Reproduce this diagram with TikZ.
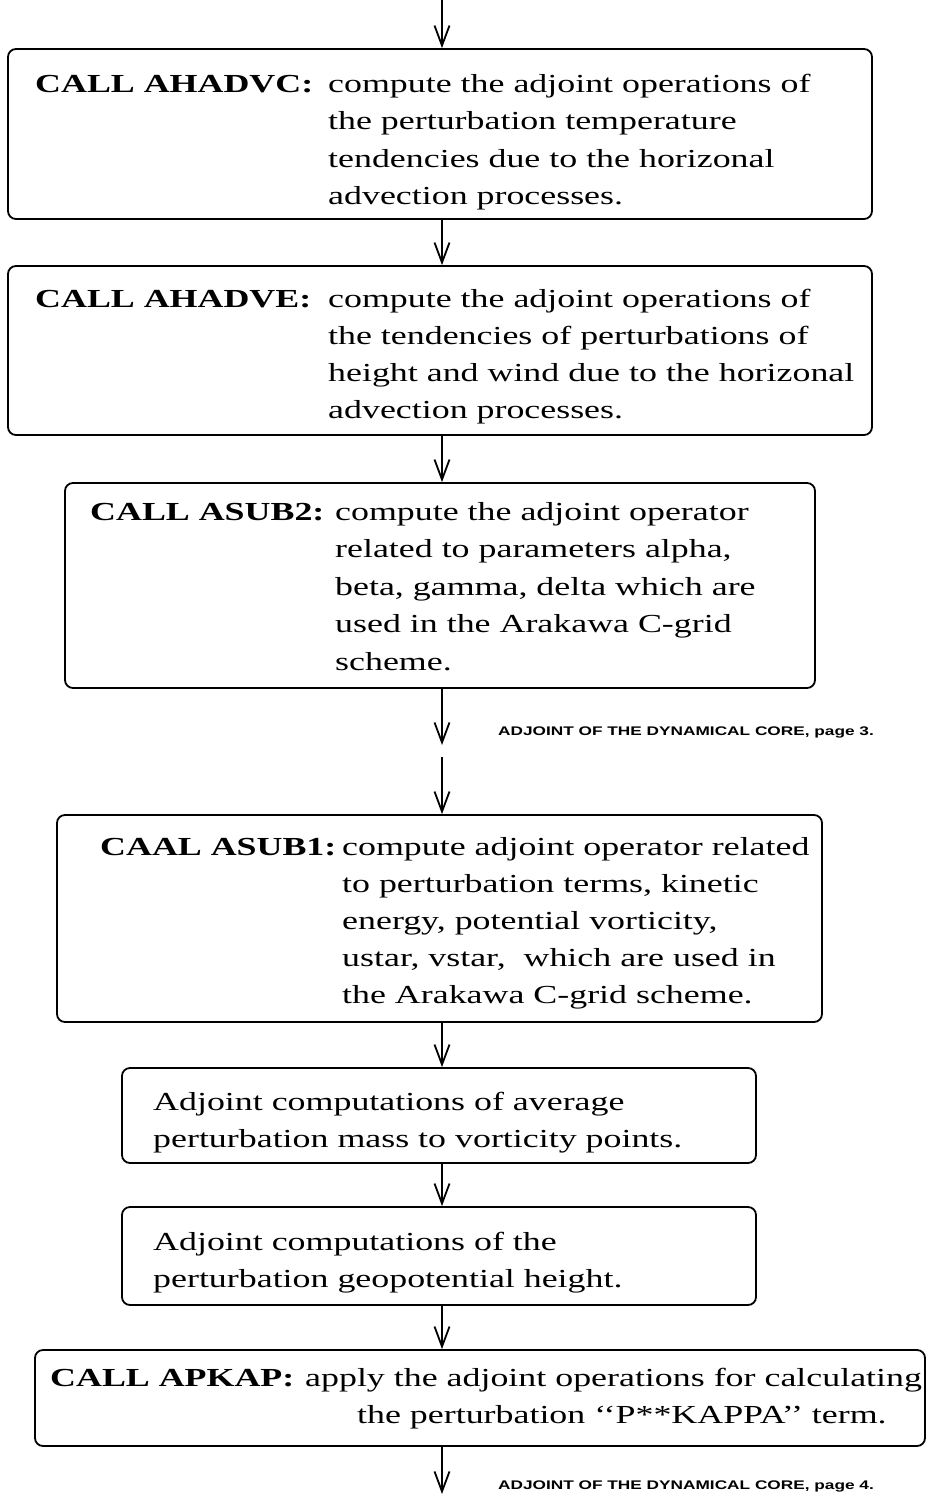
\documentclass[tikz,border=0pt]{standalone}
\usepackage{fontspec}
\setmainfont{Liberation Serif}[FakeStretch=1.38]
\newfontfamily\notefont{Liberation Sans}[FakeStretch=1.38]
\usetikzlibrary{arrows.meta}
\begin{document}
\begin{tikzpicture}[x=1pt,y=-1pt,
  box/.style={draw,line width=1.8pt,rounded corners=8pt,rectangle,inner sep=0pt},
  txt/.style={anchor=base west,inner sep=0pt,font=\fontsize{26}{37.5}\selectfont},
  lbl/.style={txt,font=\fontsize{26}{37.5}\selectfont\bfseries},
  note/.style={anchor=base west,inner sep=0pt,font=\notefont\bfseries\fontsize{12.5}{15}\selectfont},
  arr/.style={line width=1.8pt,-{Straight Barb[length=20pt,width=15pt,line width=1.8pt]}}]
\useasboundingbox (0,0) rectangle (928,1497);

% process boxes
\node[box,minimum width=864pt,minimum height=170pt] (box1) at (440,134) {};
\node[box,minimum width=864pt,minimum height=169pt] (box2) at (440,350.5) {};
\node[box,minimum width=750pt,minimum height=205pt] (box3) at (440,585.5) {};
\node[box,minimum width=765pt,minimum height=207pt] (box4) at (439.5,918.5) {};
\node[box,minimum width=634pt,minimum height=95pt] (box5) at (439,1115.5) {};
\node[box,minimum width=634pt,minimum height=98pt] (box6) at (439,1256) {};
\node[box,minimum width=890pt,minimum height=96pt] (box7) at (480,1398) {};

% AHADVC
\node[lbl] (l1) at (35,92) {CALL AHADVC:};
\node[txt] (t1a) at (328,92) {compute the adjoint operations of};
\node[txt] (t1b) at (328,129.5) {the perturbation temperature};
\node[txt] (t1c) at (328,167) {tendencies due to the horizonal};
\node[txt] (t1d) at (328,204.5) {advection processes.};

% AHADVE
\node[lbl] (l2) at (35,307) {CALL AHADVE:};
\node[txt] (t2a) at (328,307) {compute the adjoint operations of};
\node[txt] (t2b) at (328,344) {the tendencies of perturbations of};
\node[txt] (t2c) at (328,381) {height and wind due to the horizonal};
\node[txt] (t2d) at (328,418) {advection processes.};

% ASUB2
\node[lbl] (l3) at (90,520) {CALL ASUB2:};
\node[txt] (t3a) at (335,520) {compute the adjoint operator};
\node[txt] (t3b) at (335,557.5) {related to parameters alpha,};
\node[txt] (t3c) at (335,595) {beta, gamma, delta which are};
\node[txt] (t3d) at (335,632.5) {used in the Arakawa C-grid};
\node[txt] (t3e) at (335,670) {scheme.};

% ASUB1
\node[lbl] (l4) at (100,855) {CAAL ASUB1:};
\node[txt] (t4a) at (342,855) {compute adjoint operator related};
\node[txt] (t4b) at (342,892) {to perturbation terms, kinetic};
\node[txt] (t4c) at (342,929) {energy, potential vorticity,};
\node[txt] (t4d) at (342,966) {ustar, vstar,\ \ which are used in};
\node[txt] (t4e) at (342,1003) {the Arakawa C-grid scheme.};

% averaging to vorticity points
\node[txt] (t5a) at (153,1110) {Adjoint computations of average};
\node[txt] (t5b) at (153,1147) {perturbation mass to vorticity points.};

% geopotential height
\node[txt] (t6a) at (153,1250) {Adjoint computations of the};
\node[txt] (t6b) at (153,1287) {perturbation geopotential height.};

% APKAP
\node[lbl] (l7) at (50,1386) {CALL APKAP:};
\node[txt] (t7a) at (305,1386) {apply the adjoint operations for calculating};
\node[txt] (t7b) at (357,1423) {the perturbation `{}`P**KAPPA'{}' term.};

% page notes
\node[note] (n3) at (498,735) {ADJOINT OF THE DYNAMICAL CORE, page 3.};
\node[note] (n4) at (498,1489) {ADJOINT OF THE DYNAMICAL CORE, page 4.};

% flow column
\coordinate (in) at (442,0);
\coordinate (out3) at (442,745);
\coordinate (in4) at (442,757);
\coordinate (out4) at (442,1494);

\draw[arr] (in) -- (box1.north -| in);
\draw[arr] (box1.south -| in) -- (box2.north -| in);
\draw[arr] (box2.south -| in) -- (box3.north -| in);
\draw[arr] (box3.south -| in) -- (out3);
\draw[arr] (in4) -- (box4.north -| in);
\draw[arr] (box4.south -| in) -- (box5.north -| in);
\draw[arr] (box5.south -| in) -- (box6.north -| in);
\draw[arr] (box6.south -| in) -- (box7.north -| in);
\draw[arr] (box7.south -| in) -- (out4);
\end{tikzpicture}
\end{document}
